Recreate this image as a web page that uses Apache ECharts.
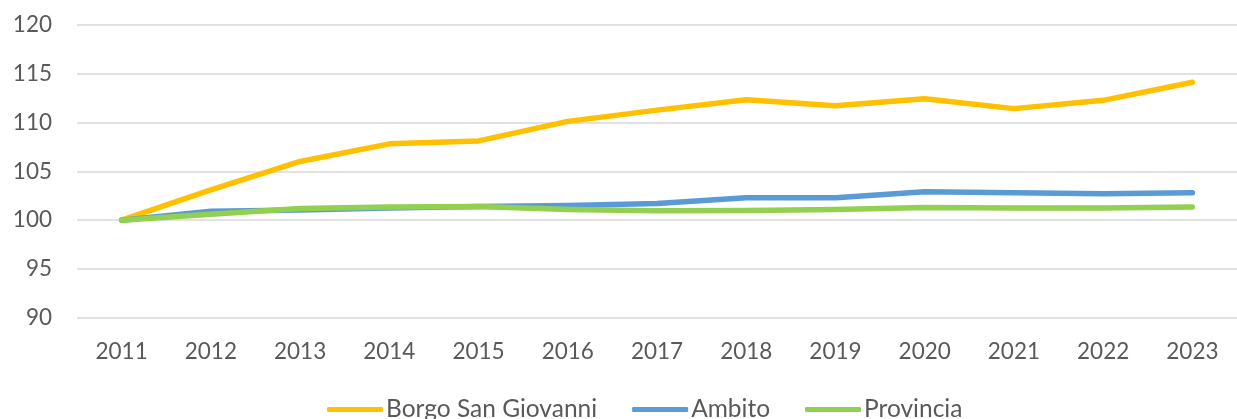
<!DOCTYPE html>
<html><head><meta charset="utf-8">
<script src="https://cdn.jsdelivr.net/npm/echarts@6/dist/echarts.min.js"></script>
<style>html,body{margin:0;padding:0;background:#fff}#c{width:1237px;height:419px}</style>
</head><body><div id="c"></div>
<script>
const years = ['2011','2012','2013','2014','2015','2016','2017','2018','2019','2020','2021','2022','2023'];
const borgo = [100, 103.1, 106.0, 107.8, 108.1, 110.1, 111.25, 112.3, 111.7, 112.4, 111.4, 112.25, 114.1];
const ambito = [100, 100.9, 101.05, 101.25, 101.4, 101.5, 101.7, 102.3, 102.3, 102.9, 102.8, 102.7, 102.8];
const provincia = [100, 100.6, 101.2, 101.35, 101.4, 101.1, 100.95, 101.0, 101.1, 101.3, 101.25, 101.25, 101.35];
const names = ['Borgo San Giovanni', 'Ambito', 'Provincia'];
const colors = ['#FFC000', '#5B9BD5', '#92D050'];

const chart = echarts.init(document.getElementById('c'), null, {renderer:'canvas'});
const font = 'Lato, "Open Sans", sans-serif';
function mk(name, data, color){
  return {name, type:'line', data, symbol:'none', smooth:false,
    lineStyle:{color, width:5.5, cap:'round', join:'round'}, itemStyle:{color}};
}
chart.setOption({
  animation:false,
  color: colors,
  grid:{left:77, right:-14, top:24.5, bottom:101, containLabel:false},
  xAxis:{type:'category', data:years, boundaryGap:true,
    axisLine:{show:false}, axisTick:{show:false},
    axisLabel:{color:'#595959', fontSize:22.5, fontFamily:font, margin:22}},
  yAxis:{type:'value', min:90, max:120, interval:5,
    axisLine:{show:false}, axisTick:{show:false},
    splitLine:{lineStyle:{color:'#d9d9d9', width:1.5}},
    axisLabel:{color:'#595959', fontSize:22.5, fontFamily:font, margin:25}},
  legend:{top:392, left:322, itemWidth:56, itemHeight:5, itemGap:35,
    icon:'roundRect', data:names,
    textStyle:{color:'#595959', fontSize:24.5, fontFamily:font, padding:[0,0,0,-2]}},
  series:[mk(names[0], borgo, colors[0]), mk(names[1], ambito, colors[1]), mk(names[2], provincia, colors[2])]
});
</script></body></html>
